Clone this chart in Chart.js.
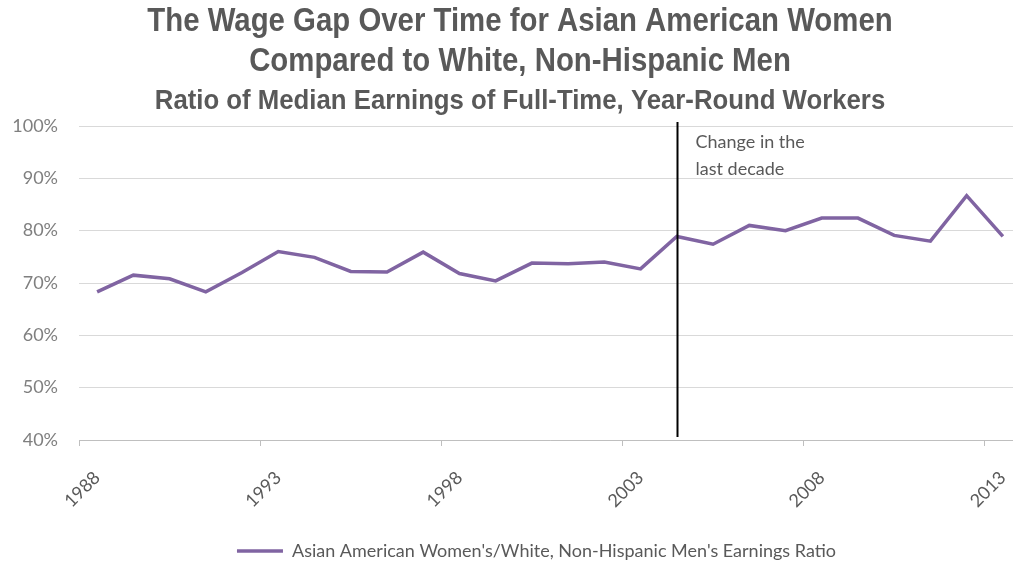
<!DOCTYPE html>
<html>
<head>
<meta charset="utf-8">
<script src="https://cdn.jsdelivr.net/npm/chart.js@4"></script>
<style>
  html, body { margin: 0; padding: 0; background: #fff; overflow: hidden; }
  /* plot runs a little past the right edge in the original, so the box is wider than the window */
  #wrap { width: 1021px; height: 563px; }
</style>
</head>
<body>
<div id="wrap"><canvas id="chart"></canvas></div>
<script>
// data
const years = ['1988', '1989', '1990', '1991', '1992', '1993', '1994', '1995', '1996', '1997', '1998', '1999', '2000',
               '2001', '2002', '2003', '2004', '2005', '2006', '2007', '2008', '2009', '2010', '2011', '2012', '2013'];
const ratio = [68.3, 71.5, 70.8, 68.3, 72.0, 76.0, 74.9, 72.2, 72.1, 75.9, 71.8, 70.4, 73.8,
               73.7, 74.0, 72.7, 78.9, 77.4, 81.0, 80.0, 82.4, 82.4, 79.1, 78.0, 86.7, 78.9];
const seriesLabel = "Asian American Women's/White, Non-Hispanic Men's Earnings Ratio";
const titleLines = ['The Wage Gap Over Time for Asian American Women', 'Compared to White, Non-Hispanic Men'];
const subtitleText = 'Ratio of Median Earnings of Full-Time, Year-Round Workers';
const markerYear = '2004';
const markerText = ['Change in the', 'last decade'];

const bodyFont = "Lato, 'Open Sans', sans-serif";
const titleFont = "'Liberation Sans', Arial, sans-serif";

// narrow bold title (Arial Narrow look: Liberation Sans squeezed sideways)
function narrowText(ctx, text, x, y, size, squeeze) {
    ctx.save();
    ctx.font = 'bold ' + size + 'px ' + titleFont;
    ctx.fillStyle = '#595959';
    ctx.textAlign = 'center';
    ctx.textBaseline = 'middle';
    ctx.translate(x, y);
    ctx.scale(squeeze, 1);
    ctx.fillText(text, 0, 0);
    ctx.restore();
}

const titlePlugin = {
    id: 'narrowTitle',
    afterDraw(chart) {
        const cx = 520;
        narrowText(chart.ctx, titleLines[0], cx, 22, 33, 0.89);
        narrowText(chart.ctx, titleLines[1], cx, 62, 33, 0.89);
        narrowText(chart.ctx, subtitleText, cx, 101, 28, 0.92);
    }
};

// vertical line + note for the last decade
const markerPlugin = {
    id: 'marker',
    afterDatasetsDraw(chart) {
        const { ctx, chartArea, scales } = chart;
        const x = Math.round(scales.x.getPixelForValue(years.indexOf(markerYear))) + 0.5;
        ctx.save();
        ctx.strokeStyle = '#000';
        ctx.lineWidth = 2;
        ctx.beginPath();
        ctx.moveTo(x, chartArea.top - 4);
        ctx.lineTo(x, chartArea.bottom - 3);
        ctx.stroke();
        ctx.fillStyle = '#595959';
        ctx.font = '18px ' + bodyFont;
        ctx.textBaseline = 'middle';
        markerText.forEach((t, i) => ctx.fillText(t, x + 18, chartArea.top + 16 + i * 27));
        ctx.restore();
    }
};

// legend sits right of centre and a bit lower in the original
const legendShift = {
    id: 'legendShift',
    afterLayout(chart) {
        chart.legend.left += 26;
        chart.legend.right += 26;
        chart.legend.top += 7;
        chart.legend.bottom += 7;
    }
};

new Chart(document.getElementById('chart'), {
    type: 'line',
    data: {
        labels: years,
        datasets: [{
            label: seriesLabel,
            data: ratio,
            borderColor: 'rgb(128, 100, 162)',
            backgroundColor: 'rgb(128, 100, 162)',
            borderWidth: 3.5,
            pointRadius: 0,
            tension: 0
        }]
    },
    options: {
        responsive: true,
        maintainAspectRatio: false,
        animation: { duration: 0 },
        layout: { padding: { left: 0, right: 0, top: 126, bottom: 0 } },
        plugins: {
            title: { display: false },
            legend: {
                position: 'bottom',
                labels: {
                    usePointStyle: true,
                    pointStyle: 'line',
                    pointStyleWidth: 46,
                    boxHeight: 4,
                    color: '#595959',
                    font: { family: bodyFont, size: 18 },
                    padding: 8
                }
            },
            tooltip: { enabled: false }
        },
        scales: {
            x: {
                offset: true,
                border: { color: '#bfbfbf', width: 1 },
                grid: {
                    offset: true,
                    drawOnChartArea: false,
                    tickLength: 6,
                    color: ctx => (ctx.index % 5 === 0 ? '#bfbfbf' : 'rgba(0,0,0,0)')
                },
                ticks: {
                    autoSkip: false,
                    minRotation: 45,
                    maxRotation: 45,
                    padding: 21,
                    color: '#595959',
                    font: { family: bodyFont, size: 18 },
                    callback: (v, i) => (i % 5 === 0 ? years[i] : '')
                },
                afterFit: scale => {
                    scale.height = 87;
                    scale.paddingLeft = 0;
                    scale.paddingRight = 0;
                }
            },
            y: {
                min: 40,
                max: 100,
                border: { display: false },
                grid: { color: '#d9d9d9', drawTicks: false },
                ticks: {
                    stepSize: 10,
                    padding: 21,
                    color: '#7f7f7f',
                    font: { family: bodyFont, size: 18 },
                    callback: v => v + '%'
                },
                afterFit: scale => { scale.width = 79; }
            }
        }
    },
    plugins: [titlePlugin, markerPlugin, legendShift]
});
</script>
</body>
</html>
